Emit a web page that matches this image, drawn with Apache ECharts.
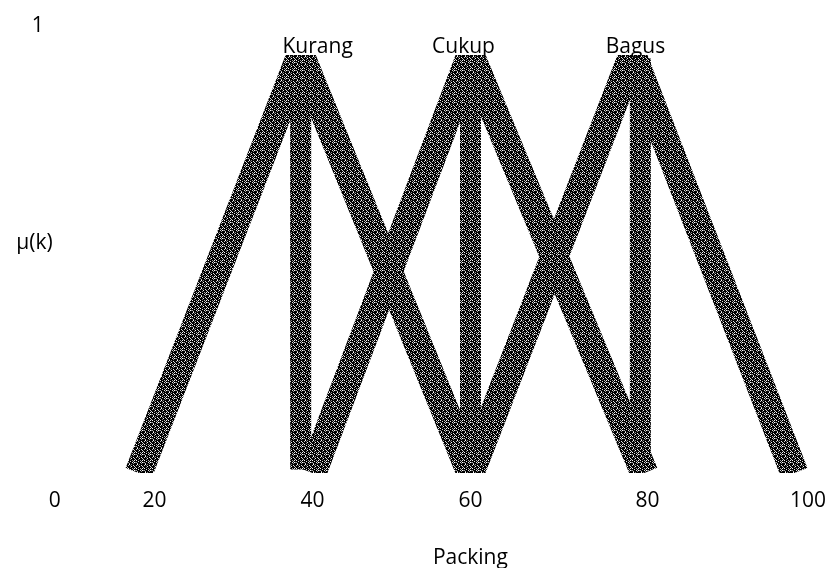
<!DOCTYPE html>
<html>
<head>
<meta charset="utf-8">
<script src="https://cdn.jsdelivr.net/npm/echarts@6/dist/echarts.min.js"></script>
<style>
  html, body { margin: 0; padding: 0; background: #fff; }
  #chart { width: 830px; height: 568px; }
</style>
</head>
<body>
<div id="chart"></div>
<script>
// fungsi keanggotaan Packing
var xTicks = [20, 40, 60, 80, 100];
var xTickLabels = ['20', '40', '60', '80', '100'];
var yTicks = [0, 1];
var yTickLabels = ['0', '1'];

var setNames = ['Kurang', 'Cukup', 'Bagus'];
var kurangX = [18, 38.5, 60];
var kurangMu = [0, 1, 0];
var cukupX = [40, 60, 82];
var cukupMu = [0, 1, 0];
var bagusX = [60, 80.5, 101];
var bagusMu = [0, 1, 0];
var peakLines = [38.5, 60, 81.5];

// speckled black texture like the scanned picture
var tile = document.createElement('canvas');
tile.width = 8;
tile.height = 8;
var tctx = tile.getContext('2d');
tctx.fillStyle = '#000';
tctx.fillRect(0, 0, 8, 8);
var specks = [[1, 0, 255], [5, 1, 230], [3, 2, 245], [7, 3, 200], [0, 4, 250], [4, 4, 170],
  [2, 5, 230], [6, 6, 255], [1, 7, 190], [5, 7, 150], [3, 0, 130], [7, 6, 120],
  [6, 2, 210], [2, 3, 140], [0, 6, 160], [4, 6, 220], [0, 1, 200], [6, 4, 240],
  [2, 1, 110], [5, 5, 180]];
specks.forEach(function (s) {
  tctx.fillStyle = 'rgb(' + s[2] + ',' + s[2] + ',' + s[2] + ')';
  tctx.fillRect(s[0], s[1], 1, 1);
});
var ink = { image: tile, repeat: 'repeat' };

function pairs(xs, ys) {
  return xs.map(function (x, i) { return [x, ys[i]]; });
}

var dom = document.getElementById('chart');
var myChart = echarts.init(dom, null, { renderer: 'canvas' });

var font = 'Open Sans';
var lw = 28;
var series = [];

[[kurangX, kurangMu], [cukupX, cukupMu], [bagusX, bagusMu]].forEach(function (s, i) {
  series.push({
    name: setNames[i],
    type: 'line',
    data: pairs(s[0], s[1]),
    showSymbol: false,
    clip: true,
    lineStyle: { width: lw, color: ink, cap: 'butt', join: 'miter' }
  });
});

peakLines.forEach(function (x) {
  series.push({
    type: 'line',
    data: [[x, 0], [x, 1]],
    showSymbol: false,
    clip: true,
    lineStyle: { width: 21, color: ink, cap: 'butt' }
  });
});

var labelShift = [[17, -8], [-7, -8], [3, -8]];
series.push({
  type: 'scatter',
  xAxisIndex: 1,
  yAxisIndex: 1,
  symbolSize: 0,
  clip: false,
  z: 10,
  itemStyle: { opacity: 1 },
  data: setNames.map(function (n, i) {
    return {
      name: n,
      value: [[kurangX, cukupX, bagusX][i][1], 1],
      label: { offset: labelShift[i] }
    };
  }),
  label: {
    show: true,
    position: 'inside',
    formatter: '{b}',
    color: '#000',
    opacity: 1,
    fontFamily: font,
    fontSize: 21
  }
});

// the line clip area grows by half the line width, so the data grid is shrunk by
// that much (and its y range with it) so the bands are cut flat at mu = 0 and mu = 1
var pad = lw / 2 / 418;

var option = {
  animation: false,
  backgroundColor: '#fff',
  grid: [
    { left: 59.7, right: 11.9, top: 55 + lw / 2, bottom: 95 + lw / 2, outerBoundsMode: 'none' },
    { left: 59.7, right: 11.9, top: 55, bottom: 95, outerBoundsMode: 'none' }
  ],
  xAxis: [
    { gridIndex: 0, type: 'value', min: 8, max: 104, show: false },
    {
      gridIndex: 1,
      type: 'value',
      min: 8,
      max: 104,
      name: 'Packing',
      nameLocation: 'middle',
      nameGap: 85,
      nameMoveOverlap: false,
      nameTextStyle: { fontFamily: font, fontSize: 21, color: '#000', verticalAlign: 'middle', padding: [0, 0, 0, 63] },
      axisLine: { show: false },
      axisTick: { show: false },
      splitLine: { show: false },
      axisLabel: {
        customValues: xTicks,
        margin: 18,
        color: '#000',
        fontFamily: font,
        fontSize: 21,
        formatter: function (v) {
          var k = xTicks.indexOf(v);
          if (v === 80) return '{a|' + xTickLabels[k] + '}';
          if (v === 100) return '{b|' + xTickLabels[k] + '}';
          return xTickLabels[k];
        },
        rich: {
          a: { fontFamily: font, fontSize: 21, color: '#000', padding: [0, 0, 0, 38] },
          b: { fontFamily: font, fontSize: 21, color: '#000', padding: [0, 0, 0, 43] }
        }
      }
    }
  ],
  yAxis: [
    { gridIndex: 0, type: 'value', min: pad, max: 1 - pad, show: false },
    {
      gridIndex: 1,
      type: 'value',
      min: 0,
      max: 1,
      name: '{n|μ(k)}',
      nameLocation: 'middle',
      nameRotate: 0,
      nameGap: 7,
      nameMoveOverlap: false,
      nameTextStyle: {
        rich: { n: { fontFamily: font, fontSize: 21, color: '#000', padding: [0, 0, 42, 0] } }
      },
      axisLine: { show: false },
      axisTick: { show: false },
      splitLine: { show: false },
      axisLabel: {
        customValues: yTicks,
        margin: 5,
        align: 'center',
        verticalAlign: 'middle',
        color: '#000',
        fontFamily: font,
        fontSize: 21,
        formatter: function (v) {
          return v === 0 ? '{lo|' + yTickLabels[0] + '}' : '{hi|' + yTickLabels[1] + '}';
        },
        rich: {
          lo: { fontFamily: font, fontSize: 21, color: '#000', padding: [56, 0, 0, 0] },
          hi: { fontFamily: font, fontSize: 21, color: '#000', padding: [0, 34, 58, 0] }
        }
      }
    }
  ],
  series: series
};

if (option && typeof option === 'object') {
  myChart.setOption(option);
}

window.addEventListener('resize', myChart.resize);
</script>
</body>
</html>
